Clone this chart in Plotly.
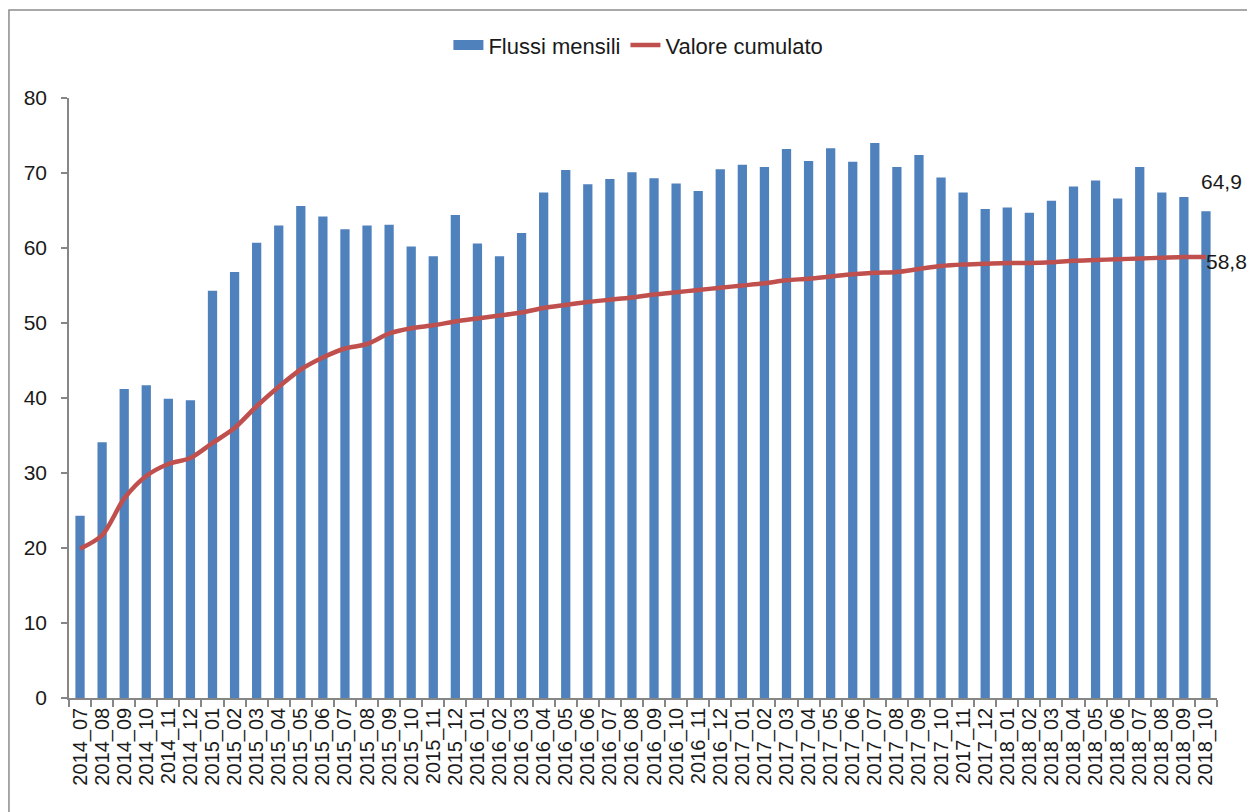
import plotly.graph_objects as go

months = []
for y, ms in [(2014, range(7, 13)), (2015, range(1, 13)), (2016, range(1, 13)),
              (2017, range(1, 13)), (2018, range(1, 11))]:
    for m in ms:
        months.append(f"{y}_{m:02d}")

flussi_mensili = [
    24.3, 34.1, 41.2, 41.7, 39.9, 39.7,
    54.3, 56.8, 60.7, 63.0, 65.6, 64.2, 62.5, 63.0, 63.1, 60.2, 58.9, 64.4,
    60.6, 58.9, 62.0, 67.4, 70.4, 68.5, 69.2, 70.1, 69.3, 68.6, 67.6, 70.5,
    71.1, 70.8, 73.2, 71.6, 73.3, 71.5, 74.0, 70.8, 72.4, 69.4, 67.4, 65.2,
    65.4, 64.7, 66.3, 68.2, 69.0, 66.6, 70.8, 67.4, 66.8, 64.9,
]

valore_cumulato = [
    19.9, 21.7, 26.6, 29.6, 31.2, 32.0,
    34.0, 36.0, 38.9, 41.5, 43.8, 45.4, 46.6, 47.2, 48.6, 49.3, 49.7, 50.2,
    50.6, 51.0, 51.4, 52.0, 52.4, 52.8, 53.1, 53.4, 53.8, 54.1, 54.4, 54.7,
    55.0, 55.3, 55.7, 55.9, 56.2, 56.5, 56.7, 56.8, 57.2, 57.6, 57.8, 57.9,
    58.0, 58.0, 58.1, 58.3, 58.4, 58.5, 58.6, 58.7, 58.8, 58.8,
]

y_ticks = [0, 10, 20, 30, 40, 50, 60, 70, 80]

FONT = "Liberation Sans"
AXIS_GREY = "#868686"
BLUE = "#4F81BD"
RED = "#C0504D"


def fmt(v):
    return f"{v:.1f}".replace(".", ",")


fig = go.Figure()
fig.add_trace(go.Bar(
    x=months, y=flussi_mensili, name="Flussi mensili", showlegend=False,
    marker=dict(color=BLUE, line=dict(width=0)),
))
# legend entry drawn as a wide rectangle (like the Excel legend key)
fig.add_trace(go.Scatter(
    x=[None], y=[None], name="Flussi mensili", mode="lines",
    line=dict(color=BLUE, width=14), hoverinfo="skip",
))
fig.add_trace(go.Scatter(
    x=months, y=valore_cumulato, name="Valore cumulato", mode="lines",
    line=dict(color=RED, width=4.5, shape="spline", smoothing=0.8),
))

last = months[-1]
fig.add_annotation(x=last, y=flussi_mensili[-1], text=fmt(flussi_mensili[-1]),
                   showarrow=False, xanchor="left", yanchor="bottom",
                   xshift=-7, yshift=16, font=dict(family=FONT, size=21, color="#1a1a1a"))
fig.add_annotation(x=last, y=valore_cumulato[-1], text=fmt(valore_cumulato[-1]),
                   showarrow=False, xanchor="left", yanchor="middle",
                   xshift=-2, yshift=-4, font=dict(family=FONT, size=21, color="#1a1a1a"))

# outer chart-area frame (left and top edges visible)
fig.add_shape(type="path", xref="paper", yref="paper",
              path="M -0.0523 -0.35 L -0.0523 1.1467 L 1.2 1.1467",
              line=dict(color="#8c8c8c", width=1.5))

# the page body has an 8px margin, so the figure is 8px smaller and margins shifted
fig.update_layout(
    width=1247, height=804,
    margin=dict(l=61, r=38, t=90, b=114, autoexpand=False),
    paper_bgcolor="white", plot_bgcolor="white",
    bargap=0.58,
    font=dict(family=FONT, size=20, color="#1a1a1a"),
    showlegend=True,
    legend=dict(orientation="h", x=0.496, xanchor="center", y=1.088, yanchor="middle",
                font=dict(family=FONT, size=22, color="#1a1a1a"),
                itemwidth=30, traceorder="normal"),
)
fig.update_xaxes(
    type="category", range=[-0.5, len(months) - 0.5], tickmode="linear", dtick=1,
    tickangle=-90, tickson="boundaries",
    ticks="outside", ticklen=7, tickcolor=AXIS_GREY, tickwidth=1.5,
    showline=True, linecolor=AXIS_GREY, linewidth=1.5, automargin=False,
    showgrid=False, tickfont=dict(family=FONT, size=20, color="#1a1a1a"),
)
fig.update_yaxes(
    range=[0, 80], tickvals=y_ticks, ticks="outside", ticklen=6,
    tickcolor=AXIS_GREY, tickwidth=1.5, showline=True, linecolor=AXIS_GREY,
    linewidth=1.5, showgrid=False, zeroline=False, automargin=False,
    tickfont=dict(family=FONT, size=21, color="#1a1a1a"), ticklabelstandoff=10,
)

fig.write_html("out.html")
